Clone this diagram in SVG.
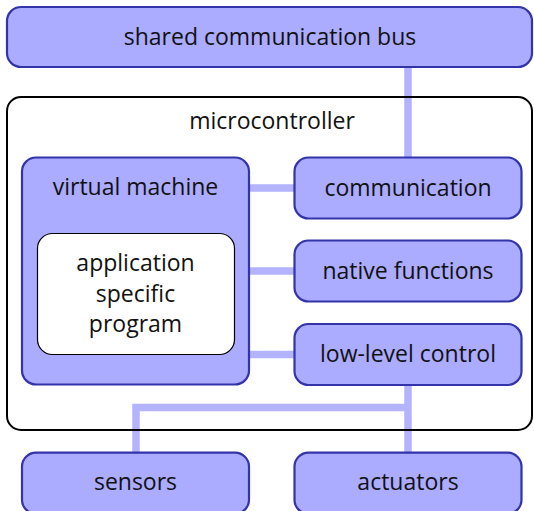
<svg xmlns="http://www.w3.org/2000/svg" width="534" height="511" viewBox="0 0 534 511">
<style>
.node{fill:#ababff;stroke:#3333aa;stroke-width:2.2}
.white{fill:#ffffff;stroke:#000000;stroke-width:1.2}
.frame{fill:none;stroke:#000000;stroke-width:2}
.conn{fill:none;stroke:#b3b3ff;stroke-width:7.5;stroke-linejoin:miter;stroke-linecap:butt}
text{font-family:"Open Sans","DejaVu Sans",sans-serif;font-size:23px;fill:#111111;text-anchor:middle}
</style>
<rect x="0" y="0" width="534" height="511" fill="#ffffff"/>
<g id="connectors">
<path class="conn" d="M408,67 V157"/>
<path class="conn" d="M249,188 H294"/>
<path class="conn" d="M249,271 H294"/>
<path class="conn" d="M249,354.5 H294"/>
<path class="conn" d="M408,385 V453"/>
<path class="conn" d="M408,407.5 H136 V453"/>
</g>
<g id="bus">
<rect class="node" x="7" y="7" width="525" height="60" rx="14"/>
<text x="270" y="45">shared communication bus</text>
</g>
<g id="microcontroller">
<rect class="frame" x="7" y="97" width="525" height="333" rx="14"/>
<text x="272" y="128.5">microcontroller</text>
</g>
<g id="vm">
<rect class="node" x="22" y="157.5" width="227" height="227" rx="14"/>
<text x="135.5" y="195">virtual machine</text>
</g>
<g id="app">
<rect class="white" x="37.5" y="233.5" width="197" height="121" rx="15"/>
<text x="135.5" y="271">application</text>
<text x="135.5" y="301.5">specific</text>
<text x="135.5" y="332">program</text>
</g>
<g id="communication">
<rect class="node" x="294.5" y="157.5" width="227" height="61" rx="14"/>
<text x="408" y="195.5">communication</text>
</g>
<g id="native">
<rect class="node" x="294.5" y="240.5" width="227" height="61" rx="14"/>
<text x="408" y="278.5">native functions</text>
</g>
<g id="lowlevel">
<rect class="node" x="294.5" y="324" width="227" height="61" rx="14"/>
<text x="408" y="361.5">low-level control</text>
</g>
<g id="sensors">
<rect class="node" x="22" y="452.7" width="227" height="61" rx="14"/>
<text x="135.5" y="490">sensors</text>
</g>
<g id="actuators">
<rect class="node" x="294.5" y="452.7" width="227" height="61" rx="14"/>
<text x="408" y="490">actuators</text>
</g>
</svg>
